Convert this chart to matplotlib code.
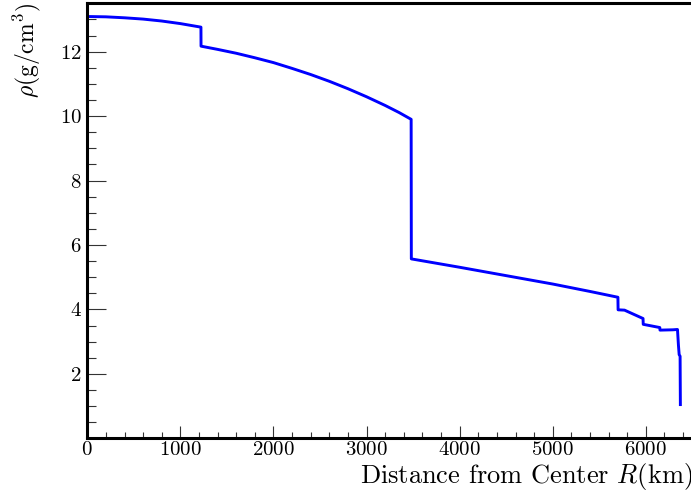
import numpy as np
import matplotlib
matplotlib.use('Agg')
import matplotlib.pyplot as plt

# density profile vs radius (km, g/cm^3)
radius = [0, 200, 400, 600, 800, 1000, 1221, 1222, 1400, 1600, 1800, 2000,
          2200, 2400, 2600, 2800, 3000, 3200, 3350, 3479, 3481, 4000, 4500,
          5000, 5400, 5600, 5700, 5702, 5771, 5970, 5972, 6150, 6152, 6291,
          6340, 6350, 6358, 6368, 6371]
density = [13.09, 13.08, 13.05, 13.01, 12.95, 12.87, 12.76, 12.17, 12.07,
           11.95, 11.81, 11.66, 11.48, 11.29, 11.08, 10.85, 10.60, 10.33,
           10.11, 9.90, 5.57, 5.31, 5.05, 4.79, 4.56, 4.44, 4.38, 3.99, 3.98,
           3.72, 3.54, 3.44, 3.36, 3.37, 3.38, 2.90, 2.60, 2.55, 1.05]

plt.rcParams['font.family'] = 'serif'
plt.rcParams['font.serif'] = ['cmr10']
plt.rcParams['mathtext.fontset'] = 'cm'
plt.rcParams['axes.formatter.use_mathtext'] = True

fig = plt.figure(figsize=(6.91, 4.99), dpi=100)
ax = fig.add_axes([0.1263, 0.1214, 0.8757, 0.872])

ax.plot(radius, density, color=(0, 0, 1), lw=2.1)

ax.set_xlim(0, 6500)
ax.set_ylim(0, 13.5)
ax.set_xticks(np.arange(0, 6001, 1000))
ax.set_xticks(np.arange(0, 6500, 200), minor=True)
ax.set_yticks(np.arange(2, 13, 2))
ax.set_yticks(np.arange(0.5, 13.5, 0.5), minor=True)

for side in ['left', 'top', 'bottom']:
    ax.spines[side].set_linewidth(2.2)
ax.spines['right'].set_visible(False)

ax.tick_params(axis='x', which='major', direction='in', length=8.6, width=0.8,
               color='#333333', labelsize=15, pad=2)
ax.tick_params(axis='x', which='minor', direction='in', length=4.3, width=0.8,
               color='#333333')
ax.tick_params(axis='y', which='major', direction='in', length=13.5, width=0.8,
               color='#333333', labelsize=15, pad=4)
ax.tick_params(axis='y', which='minor', direction='in', length=6.7, width=0.8,
               color='#333333')

ax.set_xlabel(r'Distance from Center $R$(km)', fontsize=19, loc='right', labelpad=1)
ax.set_ylabel(r'$\rho(\mathrm{g/cm^3})$', fontsize=17, loc='top', labelpad=12)

fig.savefig('out.png', dpi=100)
